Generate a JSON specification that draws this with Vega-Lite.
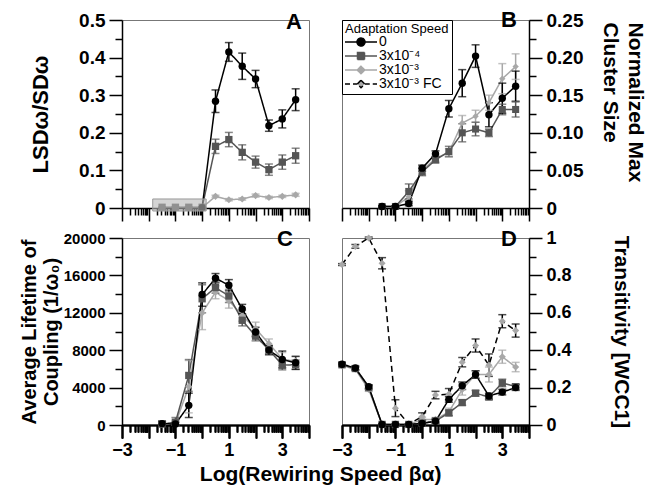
{
 "$schema": "https://vega.github.io/schema/vega-lite/v6.json",
 "background": "white",
 "padding": {"left": 18, "top": 8, "right": 5, "bottom": 5},
 "datasets": {
  "pts": [
   {"p":"A","s":"b","x":-1.5,"y":0.002,"lo":0.002,"hi":0.002},
   {"p":"A","s":"b","x":-1,"y":0.002,"lo":0.002,"hi":0.002},
   {"p":"A","s":"b","x":-0.5,"y":0.002,"lo":0.002,"hi":0.002},
   {"p":"A","s":"b","x":0,"y":0.002,"lo":0.002,"hi":0.002},
   {"p":"A","s":"b","x":0.5,"y":0.164,"lo":0.145,"hi":0.183},
   {"p":"A","s":"b","x":1,"y":0.182,"lo":0.163,"hi":0.201},
   {"p":"A","s":"b","x":1.5,"y":0.148,"lo":0.128,"hi":0.168},
   {"p":"A","s":"b","x":2,"y":0.122,"lo":0.106,"hi":0.138},
   {"p":"A","s":"b","x":2.5,"y":0.102,"lo":0.087,"hi":0.117},
   {"p":"A","s":"b","x":3,"y":0.122,"lo":0.103,"hi":0.141},
   {"p":"A","s":"b","x":3.5,"y":0.139,"lo":0.119,"hi":0.159},
   {"p":"A","s":"c","x":0,"y":0.001,"lo":0.001,"hi":0.001},
   {"p":"A","s":"c","x":0.5,"y":0.031,"lo":0.028,"hi":0.034},
   {"p":"A","s":"c","x":1,"y":0.022,"lo":0.019,"hi":0.025},
   {"p":"A","s":"c","x":1.5,"y":0.024,"lo":0.021,"hi":0.027},
   {"p":"A","s":"c","x":2,"y":0.033,"lo":0.029,"hi":0.037},
   {"p":"A","s":"c","x":2.5,"y":0.028,"lo":0.025,"hi":0.031},
   {"p":"A","s":"c","x":3,"y":0.031,"lo":0.028,"hi":0.034},
   {"p":"A","s":"c","x":3.5,"y":0.035,"lo":0.031,"hi":0.039},
   {"p":"A","s":"a","x":0,"y":0.001,"lo":0.001,"hi":0.001},
   {"p":"A","s":"a","x":0.5,"y":0.284,"lo":0.254,"hi":0.314},
   {"p":"A","s":"a","x":1,"y":0.415,"lo":0.39,"hi":0.44},
   {"p":"A","s":"a","x":1.5,"y":0.377,"lo":0.342,"hi":0.412},
   {"p":"A","s":"a","x":2,"y":0.343,"lo":0.32,"hi":0.366},
   {"p":"A","s":"a","x":2.5,"y":0.219,"lo":0.204,"hi":0.234},
   {"p":"A","s":"a","x":3,"y":0.237,"lo":0.213,"hi":0.261},
   {"p":"A","s":"a","x":3.5,"y":0.288,"lo":0.259,"hi":0.317},

   {"p":"B","s":"c","x":-1.5,"y":0.002,"lo":0.001,"hi":0.003},
   {"p":"B","s":"c","x":-1,"y":0.002,"lo":0.001,"hi":0.003},
   {"p":"B","s":"c","x":-0.5,"y":0.015,"lo":0.007,"hi":0.023},
   {"p":"B","s":"c","x":0,"y":0.05,"lo":0.045,"hi":0.055},
   {"p":"B","s":"c","x":0.5,"y":0.066,"lo":0.062,"hi":0.07},
   {"p":"B","s":"c","x":1,"y":0.074,"lo":0.069,"hi":0.079},
   {"p":"B","s":"c","x":1.5,"y":0.113,"lo":0.103,"hi":0.123},
   {"p":"B","s":"c","x":2,"y":0.122,"lo":0.114,"hi":0.13},
   {"p":"B","s":"c","x":2.5,"y":0.14,"lo":0.13,"hi":0.15},
   {"p":"B","s":"c","x":3,"y":0.172,"lo":0.152,"hi":0.192},
   {"p":"B","s":"c","x":3.5,"y":0.188,"lo":0.171,"hi":0.205},
   {"p":"B","s":"b","x":-1.5,"y":0.002,"lo":0.001,"hi":0.003},
   {"p":"B","s":"b","x":-1,"y":0.002,"lo":0.001,"hi":0.003},
   {"p":"B","s":"b","x":-0.5,"y":0.022,"lo":0.012,"hi":0.032},
   {"p":"B","s":"b","x":0,"y":0.048,"lo":0.043,"hi":0.053},
   {"p":"B","s":"b","x":0.5,"y":0.064,"lo":0.06,"hi":0.068},
   {"p":"B","s":"b","x":1,"y":0.075,"lo":0.068,"hi":0.082},
   {"p":"B","s":"b","x":1.5,"y":0.1,"lo":0.088,"hi":0.112},
   {"p":"B","s":"b","x":2,"y":0.105,"lo":0.096,"hi":0.114},
   {"p":"B","s":"b","x":2.5,"y":0.1,"lo":0.095,"hi":0.105},
   {"p":"B","s":"b","x":3,"y":0.131,"lo":0.124,"hi":0.138},
   {"p":"B","s":"b","x":3.5,"y":0.131,"lo":0.121,"hi":0.141},
   {"p":"B","s":"a","x":-1.5,"y":0.002,"lo":0.001,"hi":0.003},
   {"p":"B","s":"a","x":-1,"y":0.002,"lo":0.001,"hi":0.003},
   {"p":"B","s":"a","x":-0.5,"y":0.006,"lo":0.003,"hi":0.009},
   {"p":"B","s":"a","x":0,"y":0.053,"lo":0.049,"hi":0.057},
   {"p":"B","s":"a","x":0.5,"y":0.072,"lo":0.068,"hi":0.076},
   {"p":"B","s":"a","x":1,"y":0.132,"lo":0.121,"hi":0.143},
   {"p":"B","s":"a","x":1.5,"y":0.166,"lo":0.148,"hi":0.184},
   {"p":"B","s":"a","x":2,"y":0.202,"lo":0.187,"hi":0.217},
   {"p":"B","s":"a","x":2.5,"y":0.124,"lo":0.108,"hi":0.14},
   {"p":"B","s":"a","x":3,"y":0.146,"lo":0.126,"hi":0.166},
   {"p":"B","s":"a","x":3.5,"y":0.162,"lo":0.142,"hi":0.182},

   {"p":"C","s":"c","x":-1.5,"y":50,"lo":0,"hi":250},
   {"p":"C","s":"c","x":-1,"y":150,"lo":0,"hi":500},
   {"p":"C","s":"c","x":-0.5,"y":4100,"lo":1300,"hi":6900},
   {"p":"C","s":"c","x":0,"y":12000,"lo":10200,"hi":13800},
   {"p":"C","s":"c","x":0.5,"y":14200,"lo":13500,"hi":14900},
   {"p":"C","s":"c","x":1,"y":13300,"lo":12500,"hi":14100},
   {"p":"C","s":"c","x":1.5,"y":11700,"lo":11100,"hi":12300},
   {"p":"C","s":"c","x":2,"y":10300,"lo":9600,"hi":11000},
   {"p":"C","s":"c","x":2.5,"y":8700,"lo":8200,"hi":9200},
   {"p":"C","s":"c","x":3,"y":7050,"lo":6350,"hi":7750},
   {"p":"C","s":"c","x":3.5,"y":6800,"lo":6300,"hi":7300},
   {"p":"C","s":"b","x":-1.5,"y":100,"lo":0,"hi":400},
   {"p":"C","s":"b","x":-1,"y":300,"lo":0,"hi":800},
   {"p":"C","s":"b","x":-0.5,"y":5300,"lo":3600,"hi":7000},
   {"p":"C","s":"b","x":0,"y":13500,"lo":12000,"hi":15000},
   {"p":"C","s":"b","x":0.5,"y":14700,"lo":14100,"hi":15300},
   {"p":"C","s":"b","x":1,"y":13800,"lo":13100,"hi":14500},
   {"p":"C","s":"b","x":1.5,"y":11200,"lo":10600,"hi":11800},
   {"p":"C","s":"b","x":2,"y":9500,"lo":9000,"hi":10000},
   {"p":"C","s":"b","x":2.5,"y":8050,"lo":7650,"hi":8450},
   {"p":"C","s":"b","x":3,"y":6400,"lo":5900,"hi":6900},
   {"p":"C","s":"b","x":3.5,"y":6450,"lo":5950,"hi":6950},
   {"p":"C","s":"a","x":-1.5,"y":150,"lo":0,"hi":400},
   {"p":"C","s":"a","x":-1,"y":100,"lo":0,"hi":300},
   {"p":"C","s":"a","x":-0.5,"y":2100,"lo":800,"hi":3400},
   {"p":"C","s":"a","x":0,"y":13950,"lo":12700,"hi":15200},
   {"p":"C","s":"a","x":0.5,"y":15700,"lo":15200,"hi":16200},
   {"p":"C","s":"a","x":1,"y":14950,"lo":14350,"hi":15550},
   {"p":"C","s":"a","x":1.5,"y":12400,"lo":11900,"hi":12900},
   {"p":"C","s":"a","x":2,"y":9950,"lo":9450,"hi":10450},
   {"p":"C","s":"a","x":2.5,"y":8010,"lo":7510,"hi":8510},
   {"p":"C","s":"a","x":3,"y":7010,"lo":6110,"hi":7910},
   {"p":"C","s":"a","x":3.5,"y":6650,"lo":5950,"hi":7350},

   {"p":"D","s":"d","x":-3,"y":0.858,"lo":0.853,"hi":0.863},
   {"p":"D","s":"d","x":-2.5,"y":0.955,"lo":0.945,"hi":0.965},
   {"p":"D","s":"d","x":-2,"y":1.0,"lo":0.995,"hi":1.005},
   {"p":"D","s":"d","x":-1.5,"y":0.865,"lo":0.835,"hi":0.895},
   {"p":"D","s":"d","x":-1,"y":0.09,"lo":0.045,"hi":0.135},
   {"p":"D","s":"d","x":-0.5,"y":0.004,"lo":0.001,"hi":0.007},
   {"p":"D","s":"d","x":0,"y":0.045,"lo":0.025,"hi":0.065},
   {"p":"D","s":"d","x":0.5,"y":0.16,"lo":0.14,"hi":0.18},
   {"p":"D","s":"d","x":1,"y":0.165,"lo":0.135,"hi":0.195},
   {"p":"D","s":"d","x":1.5,"y":0.336,"lo":0.311,"hi":0.361},
   {"p":"D","s":"d","x":2,"y":0.425,"lo":0.39,"hi":0.46},
   {"p":"D","s":"d","x":2.5,"y":0.32,"lo":0.26,"hi":0.38},
   {"p":"D","s":"d","x":3,"y":0.555,"lo":0.52,"hi":0.59},
   {"p":"D","s":"d","x":3.5,"y":0.505,"lo":0.47,"hi":0.54},
   {"p":"D","s":"c","x":-3,"y":0.318,"lo":0.31,"hi":0.326},
   {"p":"D","s":"c","x":-2.5,"y":0.298,"lo":0.29,"hi":0.306},
   {"p":"D","s":"c","x":-2,"y":0.19,"lo":0.18,"hi":0.2},
   {"p":"D","s":"c","x":-1.5,"y":0.003,"lo":0.001,"hi":0.005},
   {"p":"D","s":"c","x":-1,"y":0.003,"lo":0.001,"hi":0.005},
   {"p":"D","s":"c","x":-0.5,"y":0.003,"lo":0.001,"hi":0.005},
   {"p":"D","s":"c","x":0,"y":0.03,"lo":0.02,"hi":0.04},
   {"p":"D","s":"c","x":0.5,"y":0.03,"lo":0.02,"hi":0.04},
   {"p":"D","s":"c","x":1,"y":0.07,"lo":0.05,"hi":0.09},
   {"p":"D","s":"c","x":1.5,"y":0.19,"lo":0.16,"hi":0.22},
   {"p":"D","s":"c","x":2,"y":0.27,"lo":0.25,"hi":0.29},
   {"p":"D","s":"c","x":2.5,"y":0.27,"lo":0.23,"hi":0.31},
   {"p":"D","s":"c","x":3,"y":0.365,"lo":0.33,"hi":0.4},
   {"p":"D","s":"c","x":3.5,"y":0.31,"lo":0.285,"hi":0.335},
   {"p":"D","s":"b","x":-3,"y":0.322,"lo":0.314,"hi":0.33},
   {"p":"D","s":"b","x":-2.5,"y":0.302,"lo":0.294,"hi":0.31},
   {"p":"D","s":"b","x":-2,"y":0.2,"lo":0.19,"hi":0.21},
   {"p":"D","s":"b","x":-1.5,"y":0.003,"lo":0.001,"hi":0.005},
   {"p":"D","s":"b","x":-1,"y":0.003,"lo":0.001,"hi":0.005},
   {"p":"D","s":"b","x":-0.5,"y":0.003,"lo":0.001,"hi":0.005},
   {"p":"D","s":"b","x":0,"y":0.01,"lo":0.004,"hi":0.016},
   {"p":"D","s":"b","x":0.5,"y":0.022,"lo":0.012,"hi":0.032},
   {"p":"D","s":"b","x":1,"y":0.065,"lo":0.05,"hi":0.08},
   {"p":"D","s":"b","x":1.5,"y":0.12,"lo":0.105,"hi":0.135},
   {"p":"D","s":"b","x":2,"y":0.17,"lo":0.155,"hi":0.185},
   {"p":"D","s":"b","x":2.5,"y":0.15,"lo":0.135,"hi":0.165},
   {"p":"D","s":"b","x":3,"y":0.225,"lo":0.205,"hi":0.245},
   {"p":"D","s":"b","x":3.5,"y":0.205,"lo":0.19,"hi":0.22},
   {"p":"D","s":"a","x":-3,"y":0.325,"lo":0.315,"hi":0.335},
   {"p":"D","s":"a","x":-2.5,"y":0.305,"lo":0.295,"hi":0.315},
   {"p":"D","s":"a","x":-2,"y":0.205,"lo":0.195,"hi":0.215},
   {"p":"D","s":"a","x":-1.5,"y":0.003,"lo":0.001,"hi":0.005},
   {"p":"D","s":"a","x":-1,"y":0.003,"lo":0.001,"hi":0.005},
   {"p":"D","s":"a","x":-0.5,"y":0.003,"lo":0.001,"hi":0.005},
   {"p":"D","s":"a","x":0,"y":0.008,"lo":0.003,"hi":0.013},
   {"p":"D","s":"a","x":0.5,"y":0.02,"lo":0.01,"hi":0.03},
   {"p":"D","s":"a","x":1,"y":0.137,"lo":0.122,"hi":0.152},
   {"p":"D","s":"a","x":1.5,"y":0.21,"lo":0.19,"hi":0.23},
   {"p":"D","s":"a","x":2,"y":0.27,"lo":0.25,"hi":0.29},
   {"p":"D","s":"a","x":2.5,"y":0.155,"lo":0.14,"hi":0.17},
   {"p":"D","s":"a","x":3,"y":0.176,"lo":0.161,"hi":0.191},
   {"p":"D","s":"a","x":3.5,"y":0.2,"lo":0.185,"hi":0.215}
  ],
  "box": [{"p":"A","x":-1.85,"x2":0.15,"y":-0.008,"y2":0.024}]
 },
 "data": {"name": "pts"},
 "columns": 2,
 "bounds": "flush",
 "spacing": {"row": 30, "column": 33},
 "title": {"text": "Log(Rewiring Speed βα)", "orient": "bottom", "anchor": "middle", "fontSize": 21, "fontWeight": "bold", "color": "black", "offset": 4, "dx": -12},
 "concat": [
  {
   "width": 187, "height": 188,
   "title": {"text": "A", "anchor": "end", "frame": "group", "offset": -23, "dx": -7, "fontSize": 22, "fontWeight": "bold", "color": "black"},
   "transform": [{"filter": "datum.p==='A'"}],
   "encoding": {"x": {"field": "x", "type": "quantitative", "scale": {"domain": [-3, 4], "nice": false, "zero": false},
     "axis": {"title": null, "labels": false, "tickCount": 200, "values": [-3,-2.69897,-2.52288,-2.39794,-2.30103,-2.22185,-2.1549,-2.09691,-2.04576,-2,-1.69897,-1.52288,-1.39794,-1.30103,-1.22185,-1.1549,-1.09691,-1.04576,-1,-0.69897,-0.52288,-0.39794,-0.30103,-0.22185,-0.1549,-0.09691,-0.04576,0,0.30103,0.47712,0.60206,0.69897,0.77815,0.8451,0.90309,0.95424,1,1.30103,1.47712,1.60206,1.69897,1.77815,1.8451,1.90309,1.95424,2,2.30103,2.47712,2.60206,2.69897,2.77815,2.8451,2.90309,2.95424,3,3.30103,3.47712,3.60206,3.69897,3.77815,3.8451,3.90309,3.95424,4],
       "tickSize": {"condition": {"test": "datum.value % 1 === 0", "value": 13}, "value": 7}}}},
   "layer": [
    {"mark": {"type": "line", "strokeWidth": 1.5},
     "encoding": {"y": {"field": "y", "type": "quantitative", "scale": {"domain": [0, 0.5], "nice": false},
       "axis": {"title": "LSDω/SDω", "titleFontSize": 22, "titlePadding": 26, "tickCount": 200, "values": [0,0.05,0.1,0.15,0.2,0.25,0.3,0.35,0.4,0.45,0.5],
         "tickSize": {"condition": {"test": "abs(datum.value*10-round(datum.value*10))<0.001", "value": 13}, "value": 7},
         "labelExpr": "abs(datum.value*10-round(datum.value*10))<0.001 ? (datum.value==0 ? '0' : format(datum.value,'.1f')) : ''",
         "labelFontSize": 19, "labelPadding": 4}},
      "color": {"field": "s", "type": "nominal", "scale": {"domain": ["a","b","c","d"], "range": ["#000000","#555555","#a8a8a8","#000000"]}, "legend": null},
      "strokeDash": {"field": "s", "type": "nominal", "scale": {"domain": ["a","b","c","d"], "range": [[1,0],[1,0],[1,0],[6,4]]}, "legend": null}}},
    {"mark": {"type": "rule", "strokeWidth": 1.5},
     "encoding": {"y": {"field": "lo", "type": "quantitative", "scale": {"domain": [0, 0.5], "nice": false}}, "y2": {"field": "hi"},
      "color": {"field": "s", "type": "nominal", "scale": {"domain": ["a","b","c","d"], "range": ["#000000","#555555","#a8a8a8","#000000"]}, "legend": null}}},
    {"mark": {"type": "tick", "orient": "horizontal", "size": 8, "thickness": 1.5},
     "encoding": {"y": {"field": "lo", "type": "quantitative", "scale": {"domain": [0, 0.5], "nice": false}},
      "color": {"field": "s", "type": "nominal", "scale": {"domain": ["a","b","c","d"], "range": ["#000000","#555555","#a8a8a8","#000000"]}, "legend": null}}},
    {"mark": {"type": "tick", "orient": "horizontal", "size": 8, "thickness": 1.5},
     "encoding": {"y": {"field": "hi", "type": "quantitative", "scale": {"domain": [0, 0.5], "nice": false}},
      "color": {"field": "s", "type": "nominal", "scale": {"domain": ["a","b","c","d"], "range": ["#000000","#555555","#a8a8a8","#000000"]}, "legend": null}}},
    {"mark": {"type": "point", "filled": true, "opacity": 1, "strokeWidth": 0},
     "encoding": {"y": {"field": "y", "type": "quantitative", "scale": {"domain": [0, 0.5], "nice": false}},
      "fill": {"field": "s", "type": "nominal", "scale": {"domain": ["a","b","c","d"], "range": ["#000000","#555555","#a8a8a8","#a8a8a8"]}, "legend": null},
      "shape": {"field": "s", "type": "nominal", "scale": {"domain": ["a","b","c","d"], "range": ["circle","square","diamond","diamond"]}, "legend": null},
      "size": {"field": "s", "type": "ordinal", "scale": {"domain": ["a","b","c","d"], "range": [55,50,40,40]}, "legend": null}}},
    {"data": {"name": "box"},
     "mark": {"type": "rect", "fill": "#b8b8b8", "fillOpacity": 0.6, "stroke": "#999999", "strokeWidth": 1},
     "encoding": {"x2": {"field": "x2"}, "y": {"field": "y", "type": "quantitative", "scale": {"domain": [0, 0.5], "nice": false}}, "y2": {"field": "y2"}}}
   ]
  },
  {
   "width": 187, "height": 188,
   "title": {"text": "B", "anchor": "end", "frame": "group", "offset": -21, "dx": -12, "fontSize": 22, "fontWeight": "bold", "color": "black"},
   "transform": [{"filter": "datum.p==='B'"}],
   "encoding": {"x": {"field": "x", "type": "quantitative", "scale": {"domain": [-3, 4], "nice": false, "zero": false},
     "axis": {"title": null, "labels": false, "tickCount": 200, "values": [-3,-2.69897,-2.52288,-2.39794,-2.30103,-2.22185,-2.1549,-2.09691,-2.04576,-2,-1.69897,-1.52288,-1.39794,-1.30103,-1.22185,-1.1549,-1.09691,-1.04576,-1,-0.69897,-0.52288,-0.39794,-0.30103,-0.22185,-0.1549,-0.09691,-0.04576,0,0.30103,0.47712,0.60206,0.69897,0.77815,0.8451,0.90309,0.95424,1,1.30103,1.47712,1.60206,1.69897,1.77815,1.8451,1.90309,1.95424,2,2.30103,2.47712,2.60206,2.69897,2.77815,2.8451,2.90309,2.95424,3,3.30103,3.47712,3.60206,3.69897,3.77815,3.8451,3.90309,3.95424,4],
       "tickSize": {"condition": {"test": "datum.value % 1 === 0", "value": 13}, "value": 7}}}},
   "layer": [
    {"mark": {"type": "line", "strokeWidth": 1.5},
     "encoding": {"y": {"field": "y", "type": "quantitative", "scale": {"domain": [0, 0.25], "nice": false},
       "axis": {"orient": "right", "title": ["Normalized Max", "Cluster Size"], "titleAngle": 90, "titleFontSize": 21, "titleLineHeight": 25, "titleAlign": "left", "titleBaseline": "bottom", "titleY": 2, "titlePadding": 17, "tickCount": 200,
         "values": [0,0.025,0.05,0.075,0.1,0.125,0.15,0.175,0.2,0.225,0.25],
         "tickSize": {"condition": {"test": "abs(datum.value*20-round(datum.value*20))<0.001", "value": 13}, "value": 7},
         "labelExpr": "abs(datum.value*20-round(datum.value*20))<0.001 ? (datum.value==0 ? '0' : format(datum.value,'.2f')) : ''",
         "labelFontSize": 19, "labelPadding": 4}},
      "color": {"field": "s", "type": "nominal", "scale": {"range": ["#000000","#555555","#a8a8a8"]}, "legend": null}}},
    {"mark": {"type": "rule", "strokeWidth": 1.5},
     "encoding": {"y": {"field": "lo", "type": "quantitative", "scale": {"domain": [0, 0.25], "nice": false}}, "y2": {"field": "hi"},
      "color": {"field": "s", "type": "nominal", "scale": {"range": ["#000000","#555555","#a8a8a8"]}, "legend": null}}},
    {"mark": {"type": "tick", "orient": "horizontal", "size": 8, "thickness": 1.5},
     "encoding": {"y": {"field": "lo", "type": "quantitative", "scale": {"domain": [0, 0.25], "nice": false}},
      "color": {"field": "s", "type": "nominal", "scale": {"range": ["#000000","#555555","#a8a8a8"]}, "legend": null}}},
    {"mark": {"type": "tick", "orient": "horizontal", "size": 8, "thickness": 1.5},
     "encoding": {"y": {"field": "hi", "type": "quantitative", "scale": {"domain": [0, 0.25], "nice": false}},
      "color": {"field": "s", "type": "nominal", "scale": {"range": ["#000000","#555555","#a8a8a8"]}, "legend": null}}},
    {"transform": [{"filter": "datum.s==='c'"}],
     "mark": {"type": "point", "shape": "diamond", "filled": true, "fill": "#a8a8a8", "size": 40, "opacity": 1, "strokeWidth": 0},
     "encoding": {"y": {"field": "y", "type": "quantitative", "scale": {"domain": [0, 0.25], "nice": false}}}},
    {"transform": [{"filter": "datum.s==='b'"}],
     "mark": {"type": "point", "shape": "square", "filled": true, "fill": "#555555", "size": 50, "opacity": 1, "strokeWidth": 0},
     "encoding": {"y": {"field": "y", "type": "quantitative", "scale": {"domain": [0, 0.25], "nice": false}}}},
    {"transform": [{"filter": "datum.s==='a'"}],
     "mark": {"type": "point", "shape": "circle", "filled": true, "fill": "#000000", "size": 55, "opacity": 1, "strokeWidth": 0},
     "encoding": {"y": {"field": "y", "type": "quantitative", "scale": {"domain": [0, 0.25], "nice": false}}}},
    {"transform": [{"filter": "false"}],
     "mark": {"type": "point", "filled": true, "opacity": 1},
     "encoding": {
      "fill": {"field": "s", "type": "nominal", "title": "Adaptation Speed", "scale": {"domain": ["a","b","c","d"], "range": ["#000000","#555555","#a8a8a8","#a8a8a8"]},
        "legend": {"title": "Adaptation Speed", "orient": "top-left", "offset": 0, "padding": 3, "strokeColor": "black", "fillColor": "white",
          "titleFontSize": 13, "titleFontWeight": "normal", "titleColor": "black", "titlePadding": -1,
          "labelFontSize": 14, "labelColor": "black", "rowPadding": -1, "symbolSize": 100, "symbolOffset": 9, "labelOffset": 11, "symbolOpacity": 1, "symbolStrokeWidth": 1.5,
          "labelExpr": "datum.value==='a' ? '0' : datum.value==='b' ? '3x10⁻⁴' : datum.value==='c' ? '3x10⁻³' : '3x10⁻³ FC'"}},
      "shape": {"field": "s", "type": "nominal", "title": "Adaptation Speed", "scale": {"domain": ["a","b","c","d"], "range": ["M-3.2,0H-0.8M0.8,0H3.2M-0.8,0A0.8,0.8,0,1,1,0.8,0A0.8,0.8,0,1,1,-0.8,0Z", "M-3.2,0H-0.7M0.7,0H3.2M-0.7,-0.7H0.7V0.7H-0.7Z", "M-3.2,0H-0.75M0.75,0H3.2M0,-0.75L0.75,0L0,0.75L-0.75,0Z", "M-3.2,0H-0.75M0.75,0H3.2M0,-0.75L0.75,0L0,0.75L-0.75,0Z"]}},
      "stroke": {"field": "s", "type": "nominal", "title": "Adaptation Speed", "scale": {"domain": ["a","b","c","d"], "range": ["#000000","#555555","#a8a8a8","#000000"]}},
      "strokeDash": {"field": "s", "type": "nominal", "title": "Adaptation Speed", "scale": {"domain": ["a","b","c","d"], "range": [[1,0],[1,0],[1,0],[5,3]]}}}}
   ]
  },
  {
   "width": 187, "height": 187,
   "title": {"text": "C", "anchor": "end", "frame": "group", "offset": -20, "dx": -16, "fontSize": 22, "fontWeight": "bold", "color": "black"},
   "transform": [{"filter": "datum.p==='C'"}],
   "encoding": {"x": {"field": "x", "type": "quantitative", "scale": {"domain": [-3, 4], "nice": false, "zero": false},
     "axis": {"orient": "bottom", "title": null, "labels": false, "tickCount": 200,
       "values": [-3,-2.69897,-2.52288,-2.39794,-2.30103,-2.22185,-2.1549,-2.09691,-2.04576,-2,-1.69897,-1.52288,-1.39794,-1.30103,-1.22185,-1.1549,-1.09691,-1.04576,-1,-0.69897,-0.52288,-0.39794,-0.30103,-0.22185,-0.1549,-0.09691,-0.04576,0,0.30103,0.47712,0.60206,0.69897,0.77815,0.8451,0.90309,0.95424,1,1.30103,1.47712,1.60206,1.69897,1.77815,1.8451,1.90309,1.95424,2,2.30103,2.47712,2.60206,2.69897,2.77815,2.8451,2.90309,2.95424,3,3.30103,3.47712,3.60206,3.69897,3.77815,3.8451,3.90309,3.95424,4],
       "tickSize": {"condition": {"test": "datum.value % 1 === 0", "value": 13}, "value": 7}}}},
   "resolve": {"axis": {"x": "independent"}},
   "layer": [
    {"mark": {"type": "line", "strokeWidth": 1.5},
     "encoding": {"y": {"field": "y", "type": "quantitative", "scale": {"domain": [0, 20000], "nice": false},
       "axis": {"title": ["Average Lifetime of", "Coupling (1/ω₀)"], "titleFontSize": 20, "titleLineHeight": 22, "titlePadding": 2, "tickCount": 200,
         "values": [0,2000,4000,6000,8000,10000,12000,14000,16000,18000,20000],
         "tickSize": {"condition": {"test": "datum.value % 4000 === 0", "value": 13}, "value": 7},
         "labelExpr": "datum.value % 4000 === 0 ? format(datum.value,'d') : ''",
         "labelFontSize": 15, "labelPadding": 4}},
      "color": {"field": "s", "type": "nominal", "scale": {"domain": ["a","b","c","d"], "range": ["#000000","#555555","#a8a8a8","#000000"]}, "legend": null},
      "strokeDash": {"field": "s", "type": "nominal", "scale": {"domain": ["a","b","c","d"], "range": [[1,0],[1,0],[1,0],[6,4]]}, "legend": null}}},
    {"mark": {"type": "rule", "strokeWidth": 1.5},
     "encoding": {
      "x": {"field": "x", "type": "quantitative", "scale": {"domain": [-3, 4], "nice": false, "zero": false},
        "axis": {"orient": "bottom", "title": null, "values": [-3,-1,1,3], "tickCount": 200, "format": "d", "tickSize": 13, "domain": false, "labelFontSize": 18, "labelPadding": 3, "labelFlush": false}},
      "y": {"field": "lo", "type": "quantitative", "scale": {"domain": [0, 20000], "nice": false}}, "y2": {"field": "hi"},
      "color": {"field": "s", "type": "nominal", "scale": {"domain": ["a","b","c","d"], "range": ["#000000","#555555","#a8a8a8","#000000"]}, "legend": null}}},
    {"mark": {"type": "tick", "orient": "horizontal", "size": 8, "thickness": 1.5},
     "encoding": {"y": {"field": "lo", "type": "quantitative", "scale": {"domain": [0, 20000], "nice": false}},
      "color": {"field": "s", "type": "nominal", "scale": {"domain": ["a","b","c","d"], "range": ["#000000","#555555","#a8a8a8","#000000"]}, "legend": null}}},
    {"mark": {"type": "tick", "orient": "horizontal", "size": 8, "thickness": 1.5},
     "encoding": {"y": {"field": "hi", "type": "quantitative", "scale": {"domain": [0, 20000], "nice": false}},
      "color": {"field": "s", "type": "nominal", "scale": {"domain": ["a","b","c","d"], "range": ["#000000","#555555","#a8a8a8","#000000"]}, "legend": null}}},
    {"mark": {"type": "point", "filled": true, "opacity": 1, "strokeWidth": 0},
     "encoding": {"y": {"field": "y", "type": "quantitative", "scale": {"domain": [0, 20000], "nice": false}},
      "fill": {"field": "s", "type": "nominal", "scale": {"domain": ["a","b","c","d"], "range": ["#000000","#555555","#a8a8a8","#a8a8a8"]}, "legend": null},
      "shape": {"field": "s", "type": "nominal", "scale": {"domain": ["a","b","c","d"], "range": ["circle","square","diamond","diamond"]}, "legend": null},
      "size": {"field": "s", "type": "ordinal", "scale": {"domain": ["a","b","c","d"], "range": [55,50,40,40]}, "legend": null}}}
   ]
  },
  {
   "width": 187, "height": 187,
   "title": {"text": "D", "anchor": "end", "frame": "group", "offset": -22, "dx": -12, "fontSize": 22, "fontWeight": "bold", "color": "black"},
   "transform": [{"filter": "datum.p==='D'"}],
   "encoding": {"x": {"field": "x", "type": "quantitative", "scale": {"domain": [-3, 4], "nice": false, "zero": false},
     "axis": {"orient": "bottom", "title": null, "labels": false, "tickCount": 200,
       "values": [-3,-2.69897,-2.52288,-2.39794,-2.30103,-2.22185,-2.1549,-2.09691,-2.04576,-2,-1.69897,-1.52288,-1.39794,-1.30103,-1.22185,-1.1549,-1.09691,-1.04576,-1,-0.69897,-0.52288,-0.39794,-0.30103,-0.22185,-0.1549,-0.09691,-0.04576,0,0.30103,0.47712,0.60206,0.69897,0.77815,0.8451,0.90309,0.95424,1,1.30103,1.47712,1.60206,1.69897,1.77815,1.8451,1.90309,1.95424,2,2.30103,2.47712,2.60206,2.69897,2.77815,2.8451,2.90309,2.95424,3,3.30103,3.47712,3.60206,3.69897,3.77815,3.8451,3.90309,3.95424,4],
       "tickSize": {"condition": {"test": "datum.value % 1 === 0", "value": 13}, "value": 7}}}},
   "resolve": {"axis": {"x": "independent"}},
   "layer": [
    {"mark": {"type": "line", "strokeWidth": 1.5},
     "encoding": {"y": {"field": "y", "type": "quantitative", "scale": {"domain": [0, 1], "nice": false},
       "axis": {"orient": "right", "title": "Transitivity [WCC1]", "titleAngle": 90, "titleFontSize": 21, "titleBaseline": "bottom", "titlePadding": 39, "tickCount": 200,
         "values": [0,0.1,0.2,0.3,0.4,0.5,0.6,0.7,0.8,0.9,1],
         "tickSize": {"condition": {"test": "abs(datum.value*5-round(datum.value*5))<0.001", "value": 13}, "value": 7},
         "labelExpr": "abs(datum.value*5-round(datum.value*5))<0.001 ? (datum.value==0 ? '0' : datum.value==1 ? '1' : format(datum.value,'.1f')) : ''",
         "labelFontSize": 18, "labelPadding": 4}},
      "color": {"field": "s", "type": "nominal", "scale": {"domain": ["a","b","c","d"], "range": ["#000000","#555555","#a8a8a8","#000000"]}, "legend": null},
      "strokeDash": {"field": "s", "type": "nominal", "scale": {"domain": ["a","b","c","d"], "range": [[1,0],[1,0],[1,0],[6,4]]}, "legend": null}}},
    {"mark": {"type": "rule", "strokeWidth": 1.5},
     "encoding": {
      "x": {"field": "x", "type": "quantitative", "scale": {"domain": [-3, 4], "nice": false, "zero": false},
        "axis": {"orient": "bottom", "title": null, "values": [-3,-1,1,3], "tickCount": 200, "format": "d", "tickSize": 13, "domain": false, "labelFontSize": 18, "labelPadding": 3, "labelFlush": false}},
      "y": {"field": "lo", "type": "quantitative", "scale": {"domain": [0, 1], "nice": false}}, "y2": {"field": "hi"},
      "color": {"field": "s", "type": "nominal", "scale": {"domain": ["a","b","c","d"], "range": ["#000000","#555555","#a8a8a8","#000000"]}, "legend": null}}},
    {"mark": {"type": "tick", "orient": "horizontal", "size": 8, "thickness": 1.5},
     "encoding": {"y": {"field": "lo", "type": "quantitative", "scale": {"domain": [0, 1], "nice": false}},
      "color": {"field": "s", "type": "nominal", "scale": {"domain": ["a","b","c","d"], "range": ["#000000","#555555","#a8a8a8","#000000"]}, "legend": null}}},
    {"mark": {"type": "tick", "orient": "horizontal", "size": 8, "thickness": 1.5},
     "encoding": {"y": {"field": "hi", "type": "quantitative", "scale": {"domain": [0, 1], "nice": false}},
      "color": {"field": "s", "type": "nominal", "scale": {"domain": ["a","b","c","d"], "range": ["#000000","#555555","#a8a8a8","#000000"]}, "legend": null}}},
    {"mark": {"type": "point", "filled": true, "opacity": 1, "strokeWidth": 0},
     "encoding": {"y": {"field": "y", "type": "quantitative", "scale": {"domain": [0, 1], "nice": false}},
      "fill": {"field": "s", "type": "nominal", "scale": {"domain": ["a","b","c","d"], "range": ["#000000","#555555","#a8a8a8","#a8a8a8"]}, "legend": null},
      "shape": {"field": "s", "type": "nominal", "scale": {"domain": ["a","b","c","d"], "range": ["circle","square","diamond","diamond"]}, "legend": null},
      "size": {"field": "s", "type": "ordinal", "scale": {"domain": ["a","b","c","d"], "range": [55,50,40,40]}, "legend": null}}}
   ]
  }
 ],
 "resolve": {
  "scale": {"x": "independent", "y": "independent", "color": "independent", "fill": "independent", "shape": "independent", "size": "independent", "strokeDash": "independent", "stroke": "independent"},
  "axis": {"x": "independent", "y": "independent"},
  "legend": {"color": "independent", "fill": "independent", "shape": "independent", "size": "independent", "strokeDash": "independent", "stroke": "independent"}
 },
 "config": {
  "font": "Liberation Sans",
  "view": {"stroke": "#777777", "strokeWidth": 1},
  "axis": {"grid": false, "domainColor": "black", "tickColor": "black", "labelColor": "black", "titleColor": "black", "labelFontWeight": "bold", "titleFontWeight": "bold", "domainWidth": 1.5, "tickWidth": 1.5, "labelOverlap": false, "labelFlush": false},
  "legend": {"labelFont": "Liberation Sans", "titleFont": "Liberation Sans"}
 }
}
